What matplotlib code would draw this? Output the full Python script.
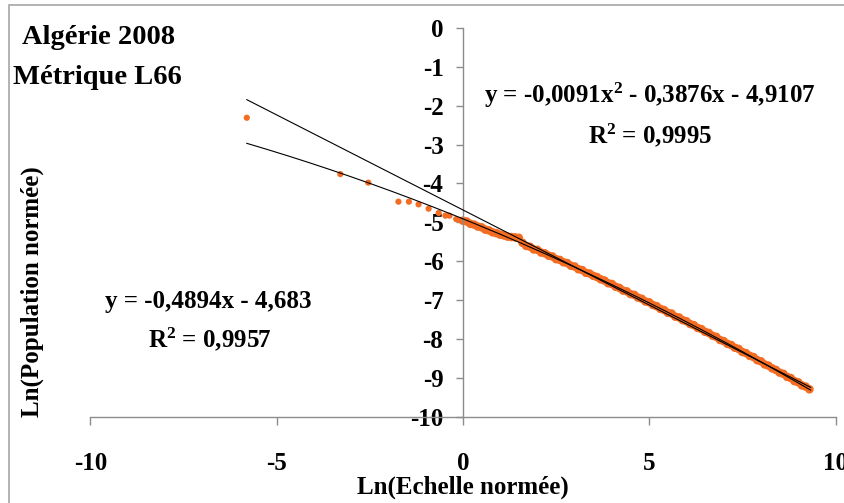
import matplotlib
matplotlib.use("Agg")
import matplotlib.pyplot as plt
import numpy as np
from matplotlib.patches import Rectangle

# ---- data ----
iso_x = [-5.80, -3.29, -2.54, -1.73, -1.45, -1.19, -0.92, -0.65, -0.47, -0.36, -0.18, -0.08]
iso_y = [-2.31, -3.76, -3.98, -4.47, -4.47, -4.54, -4.65, -4.76, -4.83, -4.83, -4.92, -4.94]

dense_x = [0.0, 0.1, 0.2, 0.3, 0.4, 0.5, 0.6, 0.7, 0.8, 0.9,
           1.0, 1.1, 1.2, 1.3, 1.4, 1.5, 1.6, 1.7, 1.8, 1.9,
           2.0, 2.1, 2.2, 2.3, 2.4, 2.5, 2.6, 2.7, 2.8, 2.9,
           3.0, 3.1, 3.2, 3.3, 3.4, 3.5, 3.6, 3.7, 3.8, 3.9,
           4.0, 4.1, 4.2, 4.3, 4.4, 4.5, 4.6, 4.7, 4.8, 4.9,
           5.0, 5.1, 5.2, 5.3, 5.4, 5.5, 5.6, 5.7, 5.8, 5.9,
           6.0, 6.1, 6.2, 6.3, 6.4, 6.5, 6.6, 6.7, 6.8, 6.9,
           7.0, 7.1, 7.2, 7.3, 7.4, 7.5, 7.6, 7.7, 7.8, 7.9,
           8.0, 8.1, 8.2, 8.3, 8.4, 8.5, 8.6, 8.7, 8.8, 8.9,
           9.0, 9.1, 9.2, 9.3]
dense_y = [-4.96, -4.98, -5.04, -5.06, -5.11, -5.13, -5.19, -5.21, -5.26, -5.28,
           -5.32, -5.34, -5.37, -5.38, -5.39, -5.40, -5.53, -5.61, -5.63, -5.70,
           -5.71, -5.78, -5.80, -5.86, -5.88, -5.95, -5.97, -6.03, -6.05, -6.12,
           -6.14, -6.21, -6.23, -6.30, -6.32, -6.38, -6.41, -6.47, -6.50, -6.57,
           -6.59, -6.66, -6.69, -6.76, -6.78, -6.85, -6.87, -6.94, -6.97, -7.04,
           -7.06, -7.13, -7.16, -7.23, -7.26, -7.33, -7.35, -7.43, -7.45, -7.52,
           -7.55, -7.62, -7.65, -7.72, -7.75, -7.82, -7.85, -7.92, -7.95, -8.03,
           -8.06, -8.13, -8.16, -8.23, -8.26, -8.34, -8.37, -8.44, -8.47, -8.55,
           -8.58, -8.66, -8.69, -8.76, -8.80, -8.87, -8.90, -8.98, -9.01, -9.09,
           -9.12, -9.20, -9.23, -9.30]

lin_coef = [-0.4894, -4.683]
quad_coef = [-0.0091, -0.3876, -4.9107]
fit_range = [-5.80, 9.33]

x_ticks = [-10, -5, 0, 5, 10]
y_ticks = [0, -1, -2, -3, -4, -5, -6, -7, -8, -9, -10]

title_lines = ["Algérie 2008", "Métrique L66"]
eq_quad = r"y = -0,0091x$^{2}$ - 0,3876x - 4,9107"
r2_quad = r"R$^{2}$ = 0,9995"
eq_lin = "y = -0,4894x - 4,683"
r2_lin = r"R$^{2}$ = 0,9957"
xlabel = "Ln(Echelle normée)"
ylabel = "Ln(Population normée)"

# ---- figure ----
FONT = "Liberation Serif"
plt.rcParams["mathtext.fontset"] = "custom"
plt.rcParams["mathtext.rm"] = "Liberation Serif:bold"
plt.rcParams["mathtext.it"] = "Liberation Serif:bold"
plt.rcParams["mathtext.bf"] = "Liberation Serif:bold"
plt.rcParams["mathtext.default"] = "rm"

W, H = 845, 503
fig = plt.figure(figsize=(W / 100, H / 100), dpi=100)
AX_COL = "#8c8c8c"
ORANGE = "#F36C22"

def fx(px):
    return px / W

def fy(py):
    return 1 - py / H

# outer chart border (cropped on right / bottom)
fig.patches.append(Rectangle((fx(9), fy(5) - 2), 2, 2, transform=fig.transFigure,
                             fill=False, edgecolor="#a6a6a6", linewidth=1.2))

left, right, top, bottom = 90.3, 835.5, 28.0, 416.5
ax = fig.add_axes([fx(left), fy(bottom), fx(right - left), (bottom - top) / H])
ax.set_xlim(-10, 10)
ax.set_ylim(-10, 0)

ax.spines["top"].set_visible(False)
ax.spines["right"].set_visible(False)
ax.spines["left"].set_position(("data", 0))
for s in ("left", "bottom"):
    ax.spines[s].set_color(AX_COL)
    ax.spines[s].set_linewidth(1.0)

ax.set_xticks(x_ticks)
ax.set_yticks(y_ticks)
ax.set_xticklabels([str(v) for v in x_ticks])
ax.set_yticklabels([str(v) for v in y_ticks])
ax.tick_params(axis="x", direction="out", length=5.5, width=1.0, color=AX_COL, pad=20)
ax.tick_params(axis="y", direction="out", length=5, width=1.0, color=AX_COL, pad=9)
for lab in ax.get_xticklabels() + ax.get_yticklabels():
    lab.set_fontfamily(FONT)
    lab.set_fontweight("bold")
    lab.set_fontsize(18)
    lab.set_color("black")
    lab.set_clip_on(False)

# trendlines
xs = np.linspace(fit_range[0], fit_range[1], 300)
ax.plot(xs, np.polyval(lin_coef, xs), color="black", linewidth=0.8, zorder=3)
ax.plot(xs, np.polyval(quad_coef, xs), color="black", linewidth=0.8, zorder=3)

# data points
ax.scatter(iso_x, iso_y, s=20, color=ORANGE, edgecolors="none", zorder=2, clip_on=False)
ax.scatter(dense_x, dense_y, s=38, color=ORANGE, edgecolors="none", zorder=2, clip_on=False)

# texts
tkw = dict(family=FONT, fontweight="bold", color="black")
fig.text(fx(22), fy(44), title_lines[0], fontsize=20.5, ha="left", va="baseline", **tkw)
fig.text(fx(13), fy(84), title_lines[1], fontsize=20.5, ha="left", va="baseline", **tkw)
fig.text(fx(650), fy(103), eq_quad, fontsize=18, ha="center", va="baseline", **tkw)
fig.text(fx(650), fy(143), r2_quad, fontsize=18, ha="center", va="baseline", **tkw)
fig.text(fx(208), fy(308), eq_lin, fontsize=18, ha="center", va="baseline", **tkw)
fig.text(fx(210), fy(347), r2_lin, fontsize=18, ha="center", va="baseline", **tkw)
fig.text(fx(463), fy(487), xlabel, fontsize=18, ha="center", va="center", **tkw)
fig.text(fx(32), fy(292), ylabel, fontsize=18, ha="center", va="center", rotation=90, **tkw)

fig.savefig("out.png", dpi=100)
